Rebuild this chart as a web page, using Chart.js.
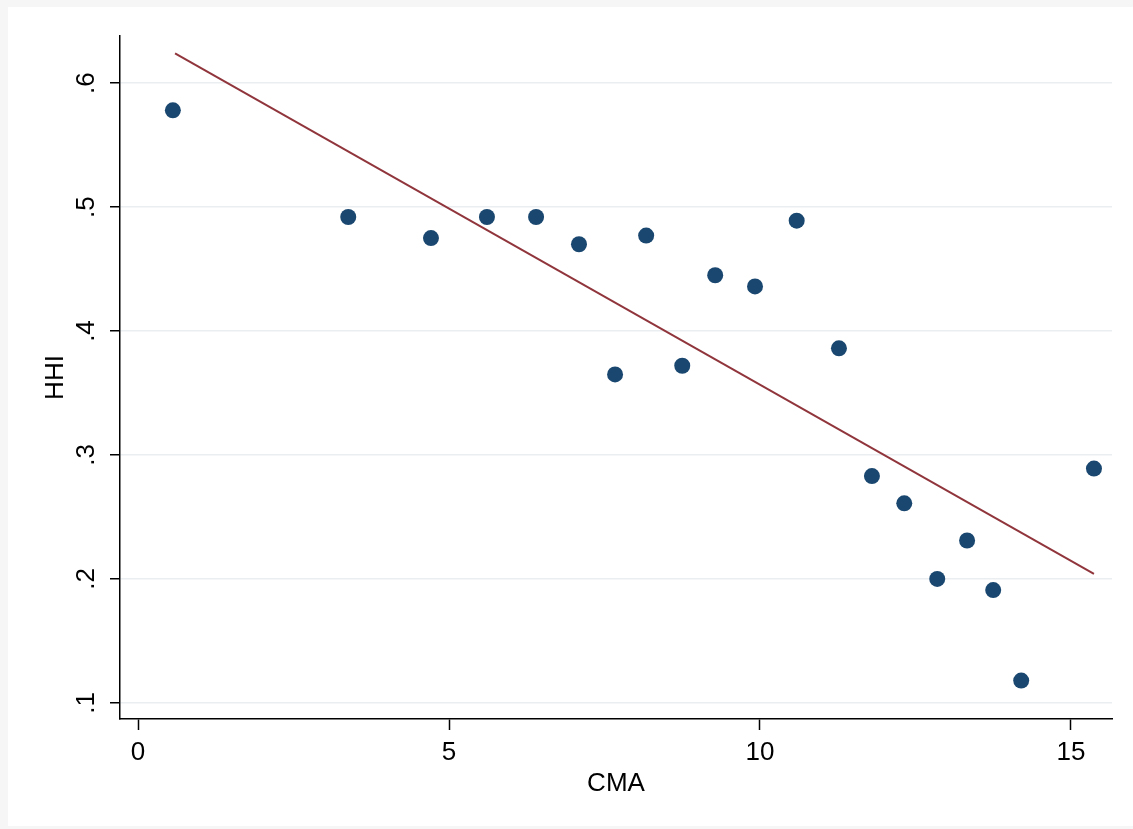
<!DOCTYPE html>
<html>
<head>
<meta charset="utf-8">
<title>HHI vs CMA</title>
<script src="https://cdn.jsdelivr.net/npm/chart.js@4.4.1/dist/chart.umd.min.js"></script>
<style>
  html, body { margin: 0; padding: 0; background: #ffffff; }
  #wrap { width: 1133px; height: 829px; position: relative; }
  /* faint grey frame round the graph, as in the exported figure */
  #chart { box-shadow: inset 8px 7px 0 #f6f6f6, inset 0 -3px 0 #f6f6f6; }
</style>
</head>
<body>
<div id="wrap"><canvas id="chart" width="1133" height="829"></canvas></div>
<script>
// Scatter points
const cmaValues = [0.56, 3.38, 4.71, 5.61, 6.40, 7.09, 7.67, 8.17, 8.75, 9.28,
                   9.92, 10.59, 11.27, 11.80, 12.32, 12.85, 13.33, 13.75, 14.20, 15.37];
const hhiValues = [0.578, 0.492, 0.475, 0.492, 0.492, 0.470, 0.365, 0.477, 0.372, 0.445,
                   0.436, 0.489, 0.386, 0.283, 0.261, 0.200, 0.231, 0.191, 0.118, 0.289];

// Fitted line end points
const fitX = [0.595, 15.37];
const fitY = [0.624, 0.204];

// Axis ticks
const xTicks = [0, 5, 10, 15];
const yTicks = [0.1, 0.2, 0.3, 0.4, 0.5, 0.6];

const tickFont = { family: 'Liberation Sans, Arial, sans-serif', size: 26 };

const points = cmaValues.map((x, i) => ({ x: x, y: hhiValues[i] }));
const fitLine = fitX.map((x, i) => ({ x: x, y: fitY[i] }));

new Chart(document.getElementById('chart').getContext('2d'), {
    type: 'scatter',
    data: {
        datasets: [
            {
                label: 'HHI',
                data: points,
                backgroundColor: '#1a476f',
                borderColor: '#1a476f',
                pointRadius: 8,
                pointHoverRadius: 8,
                borderWidth: 0,
            },
            {
                label: 'Fitted values',
                type: 'line',
                data: fitLine,
                borderColor: '#90353b',
                borderWidth: 2,
                pointRadius: 0,
                fill: false,
            }
        ]
    },
    options: {
        responsive: false,
        animation: false,
        layout: { padding: { left: 0, top: 36, right: 21, bottom: 0 } },
        plugins: {
            legend: { display: false },
            tooltip: { enabled: false }
        },
        scales: {
            x: {
                type: 'linear',
                min: -0.29,
                max: 15.66,
                afterBuildTicks: (scale) => { scale.ticks = xTicks.map(v => ({ value: v })); },
                afterFit: (scale) => { scale.height = 110; },
                border: { display: true, color: '#000000', width: 1.5 },
                grid: { drawOnChartArea: false, drawTicks: true, tickLength: 11, tickColor: '#000000', tickWidth: 1.5 },
                ticks: { color: '#000000', font: tickFont, padding: 7, maxRotation: 0, autoSkip: false },
                title: { display: true, text: 'CMA', color: '#000000', font: tickFont, padding: { top: 0, bottom: 30 } }
            },
            y: {
                type: 'linear',
                min: 0.087,
                max: 0.638,
                afterBuildTicks: (scale) => { scale.ticks = yTicks.map(v => ({ value: v })); },
                afterFit: (scale) => { scale.width = 120; },
                border: { display: true, color: '#000000', width: 1.5 },
                grid: { drawOnChartArea: true, color: '#eaeef1', lineWidth: 1.5, drawTicks: true, tickLength: 10, tickColor: '#000000', tickWidth: 1.5 },
                ticks: {
                    color: '#000000', font: tickFont, padding: 12, minRotation: 90, maxRotation: 90,
                    crossAlign: 'center', autoSkip: false,
                    callback: (v) => v.toFixed(1).replace(/^0/, '')
                },
                title: { display: true, text: 'HHI', color: '#000000', font: tickFont, padding: { top: 40, bottom: 0 } }
            }
        }
    }
});
</script>
</body>
</html>
